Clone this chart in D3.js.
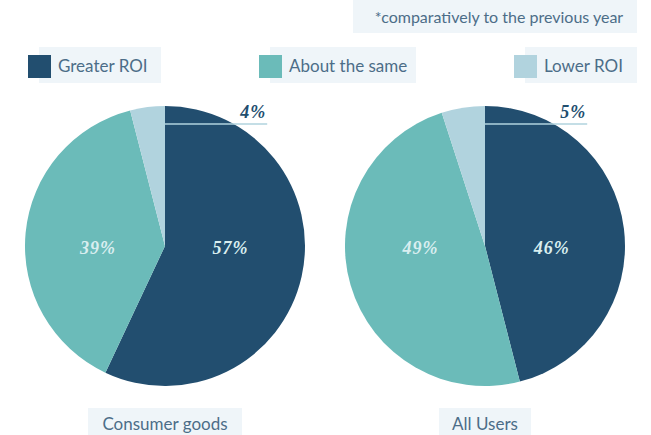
<!DOCTYPE html>
<html>
<head>
<meta charset="utf-8">
<script src="https://cdn.jsdelivr.net/npm/d3@7"></script>
<style>
  html, body { margin: 0; padding: 0; background: #ffffff; }
  svg { display: block; }
</style>
</head>
<body>
<svg id="chart" width="651" height="435"></svg>
<script>
// Answer categories and their colours
const categories = ["Greater ROI", "About the same", "Lower ROI"];
const colors = ["#224e6f", "#6bbbb9", "#b1d3de"];

// One pie per audience segment (percent)
const segments = ["Consumer goods", "All Users"];
const consumerGoods = [57, 39, 4];
const allUsers = [46, 49, 5];
const seriesValues = [consumerGoods, allUsers];

const footnote = "*comparatively to the previous year";

const svg = d3.select("#chart");
const panelBg = "#eff5f9";
const textColor = "#4c6d88";
const sansFont = "Lato, 'Open Sans', sans-serif";
const serifFont = "'Liberation Serif', 'DejaVu Serif', serif";

// Footnote box
svg.append("rect").attr("x", 353).attr("y", 0).attr("width", 284).attr("height", 33).attr("fill", panelBg);
svg.append("text").attr("x", 499).attr("y", 23).attr("text-anchor", "middle")
  .attr("font-family", sansFont).attr("font-size", 16).attr("fill", textColor).text(footnote);

// Legend
const legendLeft = [28, 259, 514];
const legendBgWidths = [122, 146, 112];
const legend = svg.append("g").selectAll("g").data(categories).join("g")
  .attr("transform", (d, i) => `translate(${legendLeft[i]},0)`);
legend.append("rect").attr("x", 11).attr("y", 47).attr("height", 36)
  .attr("width", (d, i) => legendBgWidths[i]).attr("fill", panelBg);
legend.append("rect").attr("x", 0).attr("y", 55).attr("width", 23).attr("height", 23)
  .attr("fill", (d, i) => colors[i]);
legend.append("text").attr("x", 30).attr("y", 72)
  .attr("font-family", sansFont).attr("font-size", 17).attr("fill", textColor).text(d => d);

// Pies
const radius = 140;
const centerX = d3.scalePoint().domain(segments).range([165, 485]);
const cy = 246;
const pie = d3.pie().sort(null).value(d => d);
const arc = d3.arc().innerRadius(0).outerRadius(radius);
const labelArc = d3.arc().innerRadius(radius * 0.48).outerRadius(radius * 0.48);
const captionWidths = [154, 92];

segments.forEach((seg, si) => {
  const cx = centerX(seg);
  const g = svg.append("g").attr("transform", `translate(${cx},${cy})`);
  const arcs = pie(seriesValues[si]);

  g.selectAll("path").data(arcs).join("path")
    .attr("d", arc).attr("fill", (d, i) => colors[i]);

  // Labels inside the two large slices
  g.selectAll("text.inner").data(arcs.slice(0, 2)).join("text")
    .attr("class", "inner")
    .attr("x", d => labelArc.centroid(d)[0])
    .attr("y", 8)
    .attr("text-anchor", "middle")
    .attr("font-family", serifFont).attr("font-weight", "bold").attr("font-style", "italic")
    .attr("font-size", 18).attr("letter-spacing", 1).attr("fill", "#d9eef0")
    .text(d => d.data + "%");

  // Leader line and label for the small slice
  const small = arcs[2];
  const lineY = -radius + 18;
  const lineEnd = radius * 0.73;
  g.append("line").attr("x1", 0).attr("x2", lineEnd).attr("y1", lineY).attr("y2", lineY)
    .attr("stroke", colors[2]).attr("stroke-width", 1.5);
  g.append("text").attr("x", lineEnd - 1).attr("y", lineY - 6).attr("text-anchor", "end")
    .attr("font-family", serifFont).attr("font-weight", "bold").attr("font-style", "italic")
    .attr("font-size", 18).attr("letter-spacing", 1).attr("fill", colors[0])
    .text(small.data + "%");

  // Segment caption
  svg.append("rect").attr("x", cx - captionWidths[si] / 2).attr("y", 408)
    .attr("width", captionWidths[si]).attr("height", 27).attr("fill", panelBg);
  svg.append("text").attr("x", cx).attr("y", 430).attr("text-anchor", "middle")
    .attr("font-family", sansFont).attr("font-size", 17).attr("fill", textColor).text(seg);
});
</script>
</body>
</html>
